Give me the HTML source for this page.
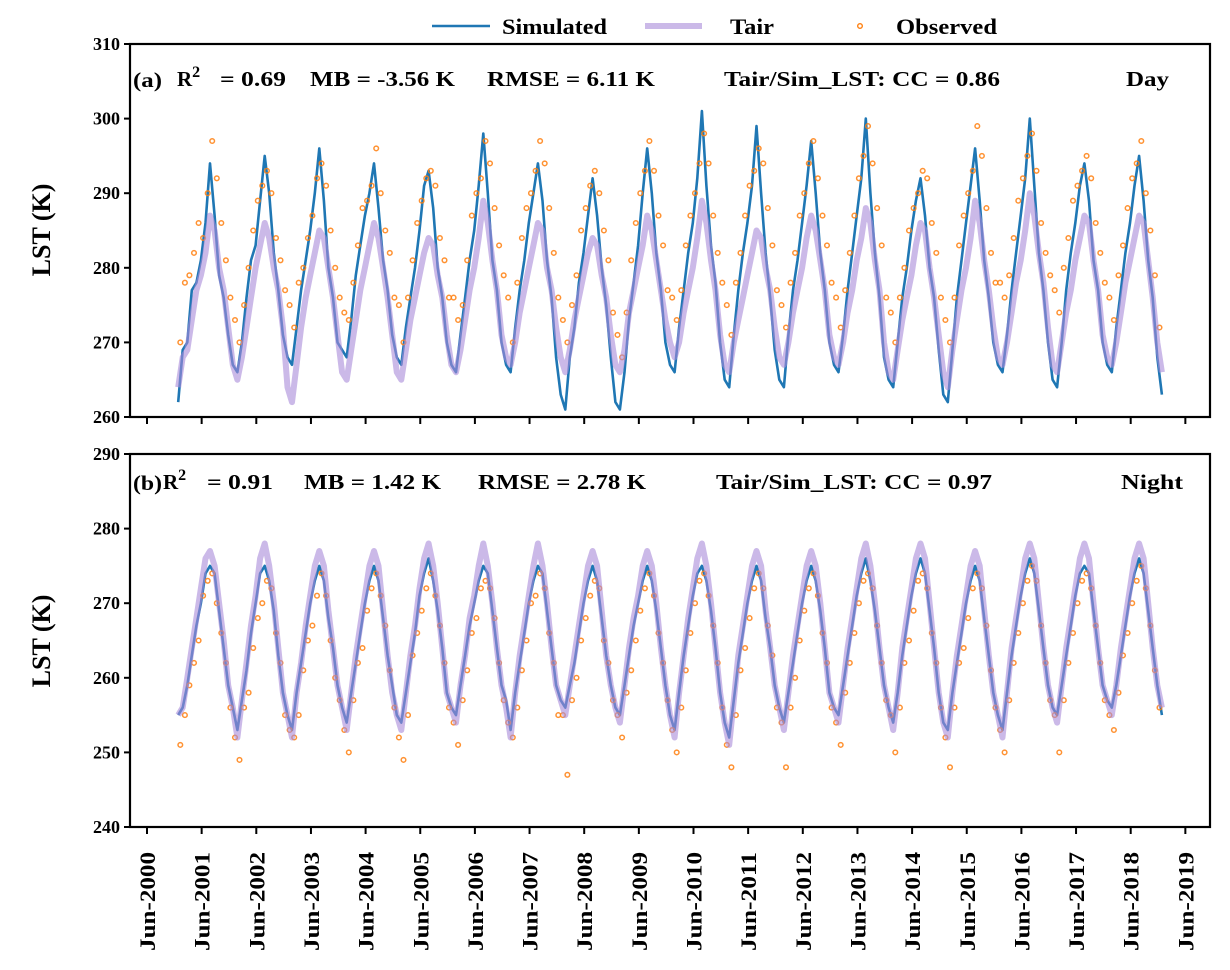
<!DOCTYPE html>
<html><head><meta charset="utf-8"><style>
body{margin:0;background:#fff}
svg{display:block;font-family:"Liberation Serif",serif;font-weight:bold}
</style></head><body>
<svg id="chart" width="1230" height="970" viewBox="0 0 1230 970">
<g id="legend">
 <g><line x1="432" y1="26" x2="490" y2="26" stroke="#1f77b4" stroke-width="2.5"/><text x="502" y="34" font-size="22" textLength="105" lengthAdjust="spacingAndGlyphs">Simulated</text></g>
 <g><line x1="645" y1="26" x2="702" y2="26" stroke="#a98bd8" stroke-opacity="0.6" stroke-width="6"/><text x="730" y="34" font-size="22" textLength="44" lengthAdjust="spacingAndGlyphs">Tair</text></g>
 <g><circle cx="860" cy="26" r="2.3" fill="none" stroke="#ff7f0e" stroke-width="1.4"/><text x="896" y="34" font-size="22" textLength="101" lengthAdjust="spacingAndGlyphs">Observed</text></g>
</g>
<g id="panelA"></g>
<g id="panelB"></g>
<g id="xlabels"></g>
<text x="0" y="0" transform="translate(50,230) rotate(-90)" text-anchor="middle" font-size="26">LST (K)</text>
<text x="0" y="0" transform="translate(50,641) rotate(-90)" text-anchor="middle" font-size="26">LST (K)</text>
<g font-size="21">
 <text x="133" y="87" textLength="29" lengthAdjust="spacingAndGlyphs">(a)</text>
 <text x="177" y="86">R<tspan dy="-9" font-size="16">2</tspan></text>
 <text x="220" y="86" textLength="66" lengthAdjust="spacingAndGlyphs">= 0.69</text>
 <text x="310" y="86" textLength="145" lengthAdjust="spacingAndGlyphs">MB = -3.56 K</text>
 <text x="487" y="86" textLength="168" lengthAdjust="spacingAndGlyphs">RMSE = 6.11 K</text>
 <text x="724" y="86" textLength="276" lengthAdjust="spacingAndGlyphs">Tair/Sim_LST: CC = 0.86</text>
 <text x="1126" y="86" textLength="43" lengthAdjust="spacingAndGlyphs">Day</text>
</g>
<g font-size="21">
 <text x="133" y="490" textLength="29" lengthAdjust="spacingAndGlyphs">(b)</text>
 <text x="163" y="489">R<tspan dy="-9" font-size="16">2</tspan></text>
 <text x="207" y="489" textLength="66" lengthAdjust="spacingAndGlyphs">= 0.91</text>
 <text x="304" y="489" textLength="137" lengthAdjust="spacingAndGlyphs">MB = 1.42 K</text>
 <text x="478" y="489" textLength="168" lengthAdjust="spacingAndGlyphs">RMSE = 2.78 K</text>
 <text x="716" y="489" textLength="276" lengthAdjust="spacingAndGlyphs">Tair/Sim_LST: CC = 0.97</text>
 <text x="1121" y="489" textLength="62" lengthAdjust="spacingAndGlyphs">Night</text>
</g>
</svg>
<script>
const tickLabels=["Jun-2000","Jun-2001","Jun-2002","Jun-2003","Jun-2004","Jun-2005","Jun-2006","Jun-2007","Jun-2008","Jun-2009","Jun-2010","Jun-2011","Jun-2012","Jun-2013","Jun-2014","Jun-2015","Jun-2016","Jun-2017","Jun-2018","Jun-2019"];
const yTicksA=[260,270,280,290,300,310];
const yTicksB=[240,250,260,270,280,290];
const startT=0.57;
const simA=[262,269,270,277,278,281,286,294,287,279,276,271,
267,266,270,276,281,283,289,295,290,282,277,271,
268,267,272,277,281,285,290,296,289,280,276,270,
269,268,273,279,283,287,290,294,288,281,277,271,
268,267,272,276,280,285,291,293,288,280,276,270,
267,266,271,276,281,285,291,298,290,281,277,270,
267,266,272,277,281,286,290,294,289,281,276,268,
263,261,268,272,278,282,287,292,287,280,275,268,
262,261,266,273,278,283,290,296,290,282,277,270,
267,266,272,277,282,286,292,301,291,283,278,270,
265,264,271,277,282,286,291,299,290,282,276,269,
265,264,271,277,281,286,291,297,290,282,277,270,
267,266,271,277,282,287,292,300,290,282,276,268,
265,264,270,276,280,285,289,292,287,280,276,269,
263,262,269,276,281,286,291,296,289,281,276,270,
267,266,271,277,282,287,292,300,291,282,277,270,
265,264,270,277,282,286,291,294,289,281,277,270,
267,266,272,277,282,286,291,295,289,281,276,268,263];
const tairA=[264,268,269,273,277,279,282,287,285,280,277,272,
267,265,268,272,276,280,283,286,284,280,277,272,
264,262,267,272,276,279,282,285,284,280,276,271,
266,265,269,273,277,280,283,286,284,280,276,271,
266,265,269,273,276,279,282,284,283,279,276,271,
267,266,269,273,277,280,284,289,286,281,277,271,
268,267,270,274,277,280,283,286,285,280,277,272,
268,266,269,273,276,279,282,284,283,279,276,271,
267,266,269,274,277,280,283,287,285,281,277,273,
270,268,270,274,277,280,284,289,286,281,277,271,
267,266,270,273,276,279,282,285,284,280,277,272,
268,267,270,274,277,280,284,287,285,281,277,271,
268,267,270,274,277,281,284,288,286,281,277,270,
266,265,269,273,276,279,283,286,285,280,276,271,
266,264,269,273,277,280,284,289,286,281,277,272,
268,267,270,274,278,281,285,290,287,282,278,272,
267,266,270,274,277,281,284,287,286,281,277,271,
268,267,270,274,278,281,284,287,286,281,276,270,266];
const obsA=[270,278,279,282,286,284,290,297,292,286,281,276,
273,270,275,280,285,289,291,293,290,284,281,277,
275,272,278,280,284,287,292,294,291,285,280,276,
274,273,278,283,288,289,291,296,290,285,282,276,
275,270,276,281,286,289,292,293,291,284,281,276,
276,273,275,281,287,290,292,297,294,288,283,279,
276,270,278,284,288,290,293,297,294,288,282,276,
273,270,275,279,285,288,291,293,290,285,281,274,
271,268,274,281,286,290,293,297,293,287,283,277,
276,273,277,283,287,290,294,298,294,287,282,278,
275,271,278,282,287,291,293,296,294,288,283,277,
275,272,278,282,287,290,294,297,292,287,283,278,
276,272,277,282,287,292,295,299,294,288,283,276,
274,270,276,280,285,288,290,293,292,286,282,276,
273,270,276,283,287,290,293,299,295,288,282,278,
278,276,279,284,289,292,295,298,293,286,282,279,
277,274,280,284,289,291,293,295,292,286,282,278,
276,273,279,283,288,292,294,297,290,285,279,272];
const simB=[255,256,259,263,267,270,274,275,274,269,264,259,
256,253,257,261,266,270,274,275,273,269,263,258,
255,253,258,262,266,270,273,275,273,268,264,259,
256,254,258,262,266,270,273,275,273,268,263,259,
255,254,258,262,266,271,274,276,273,269,264,258,
256,255,259,263,267,270,273,275,274,269,264,259,
257,253,258,262,266,270,273,275,274,269,264,259,
257,256,259,262,266,270,273,275,273,268,263,259,
256,255,259,263,267,270,273,275,273,269,264,259,
255,253,258,263,267,271,274,275,273,269,264,258,
254,252,257,262,266,270,273,275,273,268,264,259,
256,254,258,262,266,270,273,275,273,269,264,258,
256,255,259,263,267,271,274,276,273,269,264,259,
256,254,258,263,267,271,274,276,274,269,264,258,
254,253,258,262,266,270,273,275,273,268,263,258,
255,253,258,263,267,271,274,276,274,269,264,259,
256,255,259,263,267,271,274,275,274,269,264,259,
257,256,259,263,267,271,274,276,274,269,264,259,255];
const tairB=[255,256,260,264,268,272,276,277,275,270,265,259,
256,252,257,262,267,271,276,278,275,270,264,258,
255,252,258,262,267,271,275,277,275,269,264,259,
256,253,258,263,267,271,275,277,275,269,263,258,
255,253,258,263,267,272,276,278,275,270,264,258,
256,254,259,263,268,271,275,278,275,270,264,259,
256,252,258,263,267,271,275,278,275,270,264,259,
257,255,259,263,267,271,275,277,275,269,263,259,
256,254,259,264,268,271,275,277,275,270,264,259,
255,252,258,263,268,272,276,278,275,270,264,258,
254,251,257,263,267,271,275,277,275,269,264,259,
256,253,258,263,267,271,275,277,275,270,264,258,
256,254,259,264,268,272,276,278,275,270,264,259,
256,253,258,264,268,272,276,278,276,270,264,258,
254,252,258,263,267,271,275,277,275,269,263,258,
255,252,258,264,268,272,276,278,276,270,264,259,
256,254,259,264,268,272,276,278,276,270,264,259,
257,255,259,264,268,272,276,278,276,270,264,259,256];
const obsB=[251,255,259,262,265,271,273,274,270,266,262,256,
252,249,256,258,264,268,270,273,272,266,262,255,
253,252,255,261,265,267,271,274,271,265,260,257,
253,250,257,262,264,269,272,274,271,267,261,256,
252,249,255,263,266,269,272,274,271,267,262,256,
254,251,257,261,266,268,272,273,272,268,262,257,
254,252,256,261,265,270,271,274,272,266,262,255,
255,247,257,260,265,268,271,273,272,265,262,257,
255,252,258,261,265,269,272,274,271,266,262,257,
253,250,256,261,266,270,273,274,271,267,262,256,
251,248,255,261,264,268,272,274,272,267,263,256,
254,248,256,260,265,269,272,274,271,266,262,256,
254,251,258,262,266,270,273,274,272,267,262,257,
255,250,256,262,265,269,273,274,272,266,262,256,
252,248,256,262,264,268,272,274,272,267,261,256,
253,250,257,262,266,270,273,275,273,267,262,257,
255,250,257,262,266,270,273,274,272,267,262,257,
255,253,258,263,266,270,273,275,272,267,261,256];

const NS="http://www.w3.org/2000/svg";
const X0=147,XS=54.65;
function xScale(t){return X0+t*XS;}
function mk(tag,attrs,parent){const e=document.createElementNS(NS,tag);for(const k in attrs)e.setAttribute(k,attrs[k]);parent.appendChild(e);return e;}

function drawPanel(g,top,bot,yTicks,sim,tair,obs,key){
  const ymin=yTicks[0],ymax=yTicks[yTicks.length-1];
  const yScale=v=>bot-(v-ymin)/(ymax-ymin)*(bot-top);
  const L=130,R=1210;
  let d="";sim.forEach((v,i)=>{d+=(i?"L":"M")+xScale(startT+i/12).toFixed(1)+","+yScale(v).toFixed(1);});
  const sl=mk("path",{d:d,fill:"none",stroke:"#1f77b4","stroke-width":2.6,"stroke-linejoin":"round"},g);
  
  
  const og=mk("g",{},g);
  
  
  obs.forEach((v,i)=>{
    const c=mk("circle",{cx:xScale(startT+0.04+i/12).toFixed(1),cy:yScale(v).toFixed(1),r:2.3,fill:"none",stroke:"#ff7f0e","stroke-width":1.5,"stroke-opacity":0.85},og);
    
    
  });
  d="";tair.forEach((v,i)=>{d+=(i?"L":"M")+xScale(startT+i/12).toFixed(1)+","+yScale(v).toFixed(1);});
  const tl=mk("path",{d:d,fill:"none",stroke:"#a98bd8","stroke-opacity":0.6,"stroke-width":6,"stroke-linejoin":"round"},g);
  
  
  const fr=mk("rect",{x:L,y:top,width:R-L,height:bot-top,fill:"none",stroke:"#000","stroke-width":2.2},g);
  
  
  yTicks.forEach(v=>{
    const y=yScale(v);
    mk("line",{x1:L-6,x2:L,y1:y,y2:y,stroke:"#000","stroke-width":2},g);
    const t=mk("text",{x:L-10,y:y+6,"text-anchor":"end","font-size":18},g);
    t.textContent=v;
    
    
  });
  tickLabels.forEach((s,i)=>{
    const x=xScale(i);
    mk("line",{x1:x,x2:x,y1:bot,y2:bot+7,stroke:"#000","stroke-width":2},g);
  });
}
drawPanel(document.getElementById("panelA"),44,417,yTicksA,simA,tairA,obsA,"a");
drawPanel(document.getElementById("panelB"),454,827,yTicksB,simB,tairB,obsB,"b");
const xl=document.getElementById("xlabels");
tickLabels.forEach((s,i)=>{
  const x=xScale(i);
  const t=mk("text",{x:0,y:0,transform:"translate("+(x+8)+",852) rotate(-90)","text-anchor":"end","font-size":22,textLength:99,lengthAdjust:"spacingAndGlyphs"},xl);
  t.textContent=s;
  
  
});
</script>
</body></html>
